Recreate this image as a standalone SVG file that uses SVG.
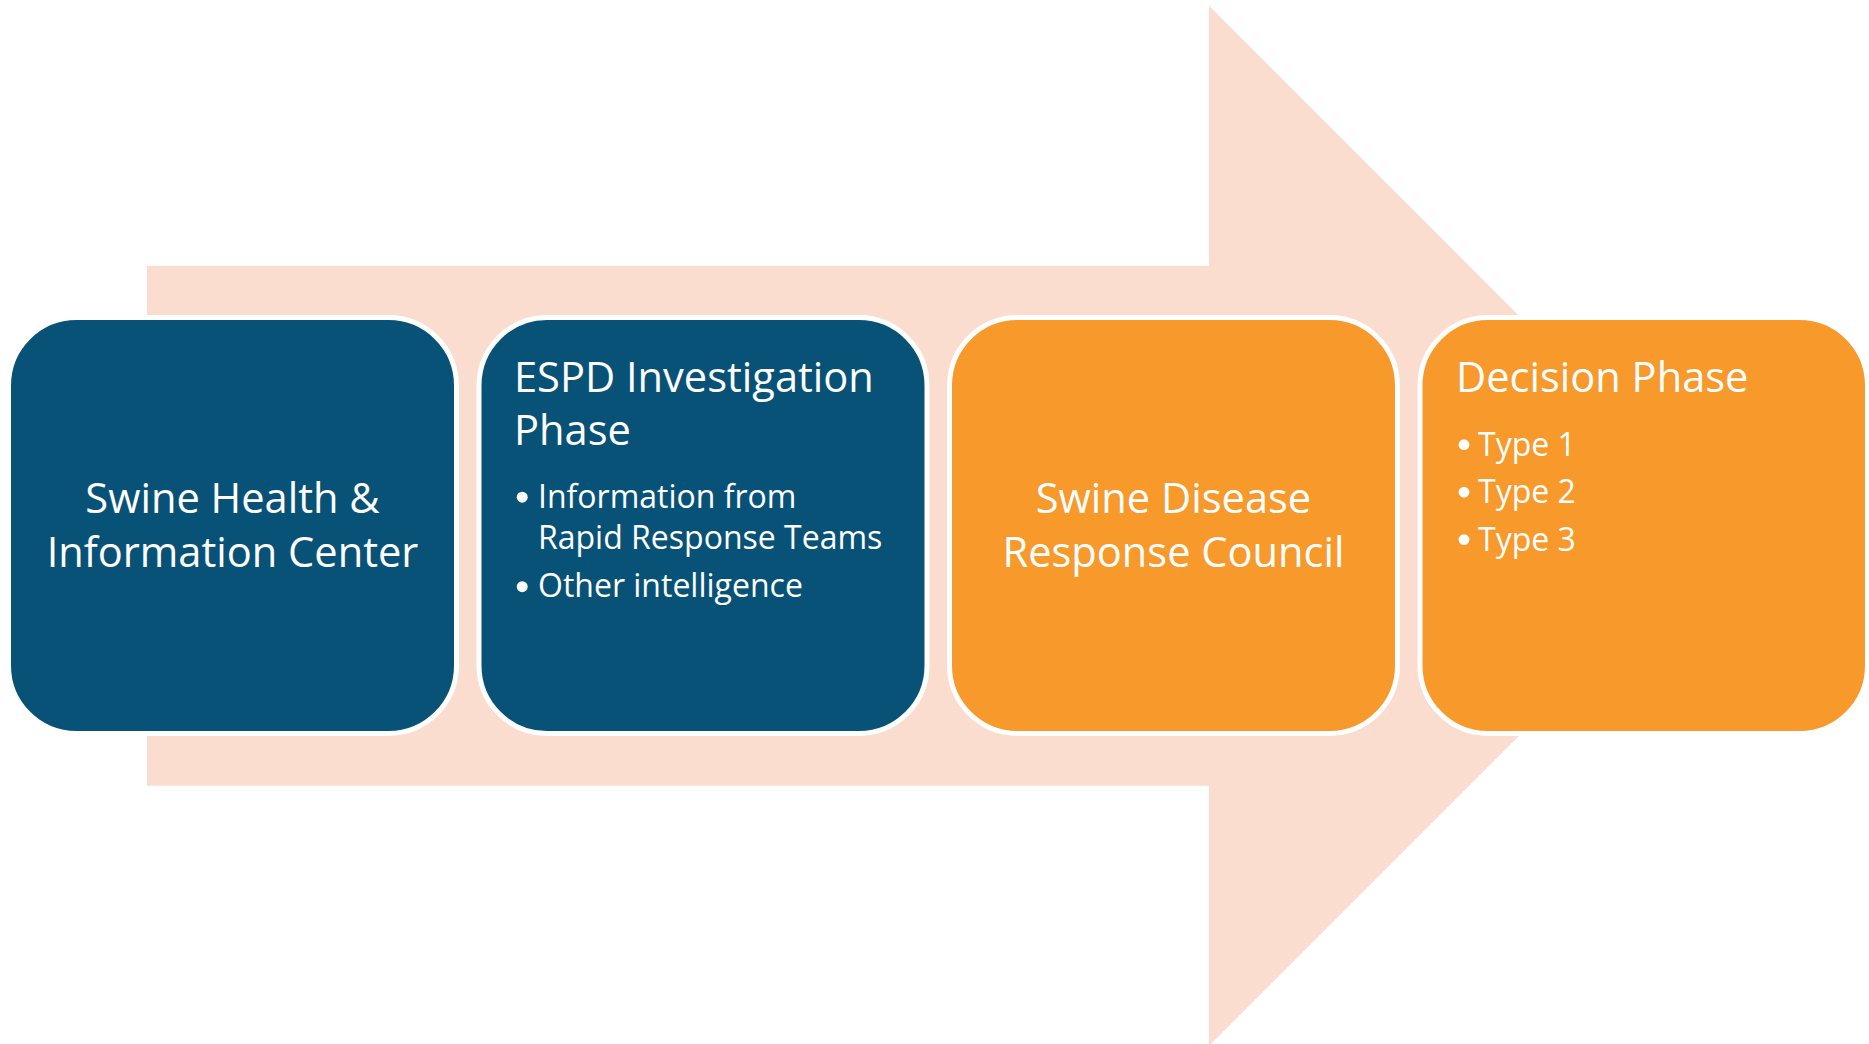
<svg xmlns="http://www.w3.org/2000/svg" width="1869" height="1044" viewBox="0 0 1869 1044">
<style>
.box{stroke:#FFFFFF;stroke-width:5}
.blue{fill:#085277}
.orange{fill:#F7992B}
.t{font-family:"Open Sans","Liberation Sans",sans-serif;fill:#FFFFFF}
.title{font-size:41.6px}
.item{font-size:32px}
.dot{fill:#FFFFFF}
.mid{text-anchor:middle}
</style>
<rect width="1869" height="1044" fill="#FFFFFF"/>
<g id="connectors">
<polygon id="process-arrow" points="147,265.7 1209,265.7 1209,5.7 1729,525.7 1209,1045.7 1209,785.7 147,785.7" fill="#FBDDCF"/>
</g>
<g id="node-1">
<rect class="box blue" x="8.5" y="317.5" width="448" height="416" rx="68" ry="68"/>
<text class="t title mid" x="232.5" y="513">Swine Health &amp;</text>
<text class="t title mid" x="232.5" y="566.7">Information Center</text>
</g>
<g id="node-2">
<rect class="box blue" x="479" y="317.5" width="448" height="416" rx="68" ry="68"/>
<text class="t title" x="514" y="391.7">ESPD Investigation</text>
<text class="t title" x="514" y="445">Phase</text>
<circle class="dot" cx="522.2" cy="497.2" r="5.5"/>
<text class="t item" x="538" y="508.3">Information from</text>
<text class="t item" x="538" y="549.3">Rapid Response Teams</text>
<circle class="dot" cx="522.2" cy="586.7" r="5.5"/>
<text class="t item" x="538" y="596.7">Other intelligence</text>
</g>
<g id="node-3">
<rect class="box orange" x="949.5" y="317.5" width="448" height="416" rx="68" ry="68"/>
<text class="t title mid" x="1173.5" y="513">Swine Disease</text>
<text class="t title mid" x="1173.5" y="566.7">Response Council</text>
</g>
<g id="node-4">
<rect class="box orange" x="1420" y="317.5" width="447.5" height="416" rx="68" ry="68"/>
<text class="t title" x="1456" y="391.7">Decision Phase</text>
<circle class="dot" cx="1464" cy="444.7" r="5.4"/>
<text class="t item" x="1478" y="456">Type 1</text>
<circle class="dot" cx="1464" cy="492.2" r="5.4"/>
<text class="t item" x="1478" y="503.3">Type 2</text>
<circle class="dot" cx="1464" cy="539.6" r="5.4"/>
<text class="t item" x="1478" y="550.7">Type 3</text>
</g>
</svg>
